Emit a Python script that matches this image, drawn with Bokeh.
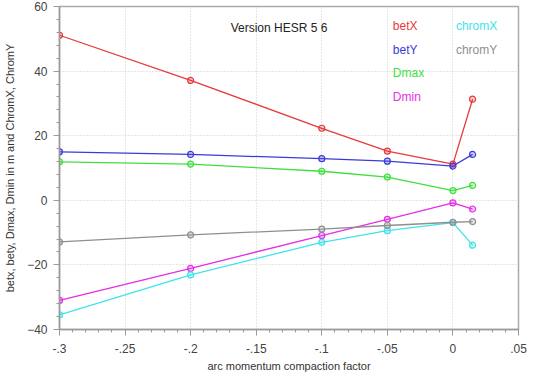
from bokeh.plotting import figure
from bokeh.models import FixedTicker, Label, Range1d
from bokeh.embed import file_html
from bokeh.resources import INLINE

# data
x = [-0.3, -0.2, -0.1, -0.05, 0.0, 0.015]
betX = [51.1, 37.1, 22.3, 15.2, 11.2, 31.3]
betY = [15.0, 14.2, 12.9, 12.1, 10.6, 14.2]
Dmax = [11.9, 11.2, 9.0, 7.2, 3.0, 4.6]
Dmin = [-31.0, -21.1, -10.9, -5.9, -0.8, -2.7]
chromX = [-35.5, -23.1, -13.0, -9.4, -6.9, -13.9]
chromY = [-12.9, -10.7, -8.9, -7.8, -6.8, -6.6]

x_ticks = [-0.3, -0.25, -0.2, -0.15, -0.1, -0.05, 0.0, 0.05]
x_tick_labels = ["-.3", "-.25", "-.2", "-.15", "-.1", "-.05", "0", ".05"]
y_ticks = [-40, -20, 0, 20, 40, 60]

series = [
    ("betX", betX, "#e8393b"),
    ("betY", betY, "#3b3bdc"),
    ("Dmax", Dmax, "#3ee03e"),
    ("Dmin", Dmin, "#e52ee5"),
    ("chromX", chromX, "#3fe3e8"),
    ("chromY", chromY, "#8f8f8f"),
]

FONT = "Liberation Sans"

p = figure(width=537, height=380, output_backend="svg", toolbar_location=None,
           x_range=Range1d(-0.3, 0.05), y_range=Range1d(-40, 60),
           min_border_left=59, min_border_right=19, min_border_top=6, min_border_bottom=51)
p.frame_width = 459
p.frame_height = 323

p.outline_line_color = "#aaaaaa"
p.outline_line_width = 1.5
p.background_fill_color = "white"
p.border_fill_color = "white"

for ax in (p.xaxis[0], p.yaxis[0]):
    ax.axis_line_color = "#999999"
    ax.axis_line_width = 1.5
    ax.major_tick_line_color = "#999999"
    ax.minor_tick_line_color = "#999999"
    ax.major_tick_out = 6
    ax.major_tick_in = 0
    ax.minor_tick_out = 3
    ax.minor_tick_in = 0
    ax.major_label_text_font = FONT
    ax.major_label_text_font_size = "12px"
    ax.major_label_text_color = "#444444"
    ax.axis_label_text_font = FONT
    ax.axis_label_text_font_size = "11px"
    ax.axis_label_text_font_style = "normal"
    ax.axis_label_text_color = "#333333"

p.xaxis.ticker = FixedTicker(ticks=x_ticks, minor_ticks=[round(-0.3 + 0.01 * i, 3) for i in range(36)])
p.xaxis.major_label_overrides = {t: l for t, l in zip(x_ticks, x_tick_labels)}
p.yaxis.ticker = FixedTicker(ticks=y_ticks, minor_ticks=list(range(-40, 61, 4)))
p.xaxis.axis_label = "arc momentum compaction factor"
p.yaxis.axis_label = "betx, bety, Dmax, Dmin in m and ChromX, ChromY"
p.xaxis.major_label_standoff = 8
p.xaxis.axis_label_standoff = 4
p.yaxis.major_label_standoff = 6
p.yaxis.axis_label_standoff = 8

p.xgrid.ticker = FixedTicker(ticks=x_ticks)
p.ygrid.ticker = FixedTicker(ticks=y_ticks)
p.grid.grid_line_color = "#cccccc"
p.grid.grid_line_dash = "1 2"
p.grid.grid_line_width = 1

for name, ys, c in series:
    p.line(x, ys, line_color=c, line_width=1.3)
    p.scatter(x, ys, marker="circle", size=6, line_color=c, fill_color=c, fill_alpha=0.25, line_width=1.2)

p.add_layout(Label(x=-0.1695, y=53.2, text="Version HESR 5 6", text_font=FONT,
                   text_font_size="12px", text_color="#222222", text_baseline="middle"))

legend_pos = [(-0.0458, 54.1), (-0.0458, 46.4), (-0.0458, 39.3), (-0.0458, 31.9),
              (0.0023, 54.1), (0.0023, 46.4)]
for (name, ys, c), (lx, ly) in zip(series, legend_pos):
    p.add_layout(Label(x=lx, y=ly, text=name, text_font=FONT, text_font_size="12px",
                       text_color=c, text_baseline="middle"))

open("out.html", "w").write(file_html(p, INLINE))
